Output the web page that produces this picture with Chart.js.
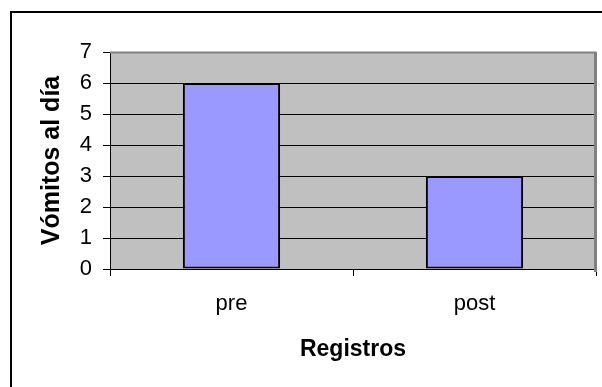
<!DOCTYPE html>
<html>
<head>
<meta charset="utf-8">
<script src="https://cdn.jsdelivr.net/npm/chart.js@4/dist/chart.umd.min.js"></script>
<style>
  html, body { margin: 0; padding: 0; background: #fff; }
  #wrap { width: 602px; height: 387px; }
</style>
</head>
<body>
<div id="wrap"><canvas id="c" width="602" height="387"></canvas></div>
<script>
// Vómitos al día, antes y después
const categories = ['pre', 'post'];
const vomitos = [6, 3];
const yTicks = [0, 1, 2, 3, 4, 5, 6, 7];

const FONT = "'Liberation Sans', Arial, sans-serif";

// Page background, outer frame and grey plot area
const framePlugin = {
  id: 'frame',
  beforeDraw(chart) {
    const { ctx, chartArea: a } = chart;
    ctx.save();
    ctx.fillStyle = '#ffffff';
    ctx.fillRect(0, 0, chart.width, chart.height);
    ctx.strokeStyle = '#000000';
    ctx.lineWidth = 2;
    ctx.strokeRect(11, 12, 800, 600);
    ctx.fillStyle = '#C0C0C0';
    ctx.fillRect(a.left, a.top, a.right - a.left, a.bottom - a.top);
    ctx.restore();
  },
  beforeDatasetsDraw(chart) {
    const { ctx, chartArea: a } = chart;
    ctx.save();
    ctx.strokeStyle = '#808080';
    ctx.lineWidth = 2;
    ctx.beginPath();
    ctx.moveTo(a.left, a.top + 0.5);
    ctx.lineTo(a.right, a.top + 0.5);
    ctx.stroke();
    ctx.lineWidth = 3;
    ctx.beginPath();
    ctx.moveTo(a.right - 0.5, a.top);
    ctx.lineTo(a.right - 0.5, a.bottom + 3);
    ctx.stroke();
    ctx.restore();
  }
};

new Chart(document.getElementById('c'), {
  type: 'bar',
  data: {
    labels: categories,
    datasets: [{
      data: vomitos,
      backgroundColor: '#9999FF',
      borderColor: '#000000',
      borderWidth: 2,
      borderSkipped: false,
      barPercentage: 0.4,
      categoryPercentage: 1
    }]
  },
  options: {
    responsive: false,
    animation: false,
    devicePixelRatio: 1,
    layout: { padding: { left: 10, top: 52, right: 6, bottom: 0 } },
    plugins: { legend: { display: false }, tooltip: { enabled: false } },
    scales: {
      x: {
        offset: true,
        afterFit(scale) { scale.height = 118; },
        grid: {
          offset: true,
          drawOnChartArea: false,
          drawTicks: true,
          tickLength: 7,
          tickColor: '#000000'
        },
        border: { display: true, color: '#000000', width: 1 },
        ticks: { color: '#000000', font: { family: FONT, size: 22 }, padding: 15 },
        title: {
          display: true,
          text: 'Registros',
          color: '#000000',
          font: { family: FONT, size: 23, weight: 'bold', lineHeight: 1 },
          padding: { top: 0, bottom: 26 }
        }
      },
      y: {
        min: 0,
        max: 7,
        afterFit(scale) { scale.width = 100; },
        afterBuildTicks(scale) { scale.ticks = yTicks.map(v => ({ value: v })); },
        grid: {
          color: ctx => (ctx.tick && ctx.tick.value === 7 ? '#808080' : '#000000'),
          lineWidth: 1,
          drawTicks: true,
          tickLength: 7,
          tickColor: '#000000'
        },
        border: { display: true, color: '#000000', width: 1 },
        ticks: { color: '#000000', font: { family: FONT, size: 22 }, padding: 11 },
        title: {
          display: true,
          text: 'Vómitos al día',
          color: '#000000',
          font: { family: FONT, size: 25, weight: 'bold', lineHeight: 1 },
          padding: { top: 30, bottom: 0 }
        }
      }
    }
  },
  plugins: [framePlugin]
});
</script>
</body>
</html>
